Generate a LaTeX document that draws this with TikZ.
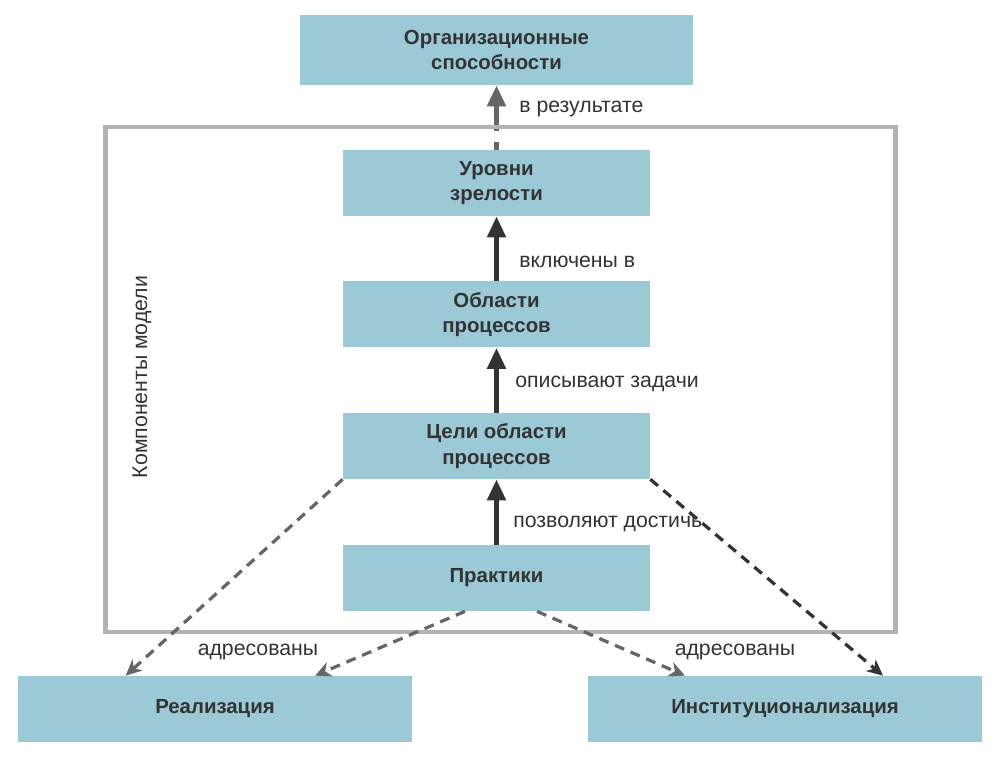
\documentclass[tikz,border=0pt]{standalone}
\usepackage{fontspec}
\setmainfont{Liberation Sans}
\usetikzlibrary{arrows.meta,calc}
\definecolor{boxblue}{HTML}{9BCAD6}
\definecolor{txt}{HTML}{333333}
\definecolor{framegray}{HTML}{B3B3B3}
\definecolor{dashgray}{HTML}{666666}
\definecolor{darkarr}{HTML}{333333}
\tikzset{
  box/.style={fill=boxblue, draw=none, minimum height=1.32cm, minimum width=6.14cm, inner sep=0pt, align=center, text=txt, font=\fontsize{11.6}{14.4}\selectfont\bfseries},
  widebox/.style={box, minimum width=7.88cm},
  lbl/.style={text=txt, inner sep=0pt, font=\fontsize{12.1}{14}\selectfont},
  solidarr/.style={line width=0.1cm, draw=darkarr, -{Triangle[length=0.42cm,width=0.36cm]}},
  grayarr/.style={solidarr, draw=dashgray},
  dasharr/.style={line width=0.065cm, draw=dashgray, dash pattern=on 0.2cm off 0.14cm, -{Stealth[length=0.32cm,width=0.3cm,inset=0.1cm]}},
  darkdash/.style={dasharr, draw=darkarr}
}
\begin{document}
\begin{tikzpicture}
\useasboundingbox (0,0) rectangle (20,-15.22);
\node[box, minimum width=7.86cm, minimum height=1.4cm] (org) at (9.93,-1.0) {Организационные\\способности};
\node[box] (lvl) at (9.93,-3.66) {Уровни\\зрелости};
\node[box] (area) at (9.93,-6.29) {Области\\процессов};
\node[box] (goal) at (9.93,-8.92) {Цели области\\процессов};
\node[box] (prac) at (9.93,-11.56) {Практики};
\node[widebox] (real) at (4.3,-14.18) {Реализация};
\node[widebox] (inst) at (15.7,-14.18) {Институционализация};

\draw[grayarr] (lvl.north) -- (org.south);
\fill[white] (9.75,-2.62) rectangle (10.11,-2.85);
\node[draw=framegray, line width=0.09cm, minimum width=15.8cm, minimum height=10.1cm, inner sep=0pt] (frame) at (10.005,-7.59) {};

\draw[solidarr] (prac.north) -- (goal.south);
\draw[solidarr] (goal.north) -- (area.south);
\draw[solidarr] (area.north) -- (lvl.south);

\draw[dasharr] (goal.south west) -- ($(real.north west)+(2.16,0)$);
\draw[dasharr] ($(prac.south)+(-0.63,0)$) -- ($(real.north)+(2.0,0)$);
\draw[dasharr] ($(prac.south)+(0.81,0)$) -- ($(inst.north)+(-2.0,0)$);
\draw[darkdash] (goal.south east) -- ($(inst.north)+(1.96,0)$);

\node[lbl, anchor=west] (l1) at (10.38,-2.17) {в результате};
\node[lbl, anchor=west] (l2) at (10.38,-5.23) {включены в};
\node[lbl, anchor=west] (l3) at (10.3,-7.67) {описывают задачи};
\node[lbl, anchor=west] (l4) at (10.26,-10.47) {позволяют достичь};
\node[lbl] (l5) at (5.16,-13.03) {адресованы};
\node[lbl] (l6) at (14.7,-13.03) {адресованы};
\node[lbl, rotate=90] (l7) at (2.84,-7.54) {Компоненты модели};
\end{tikzpicture}
\end{document}
